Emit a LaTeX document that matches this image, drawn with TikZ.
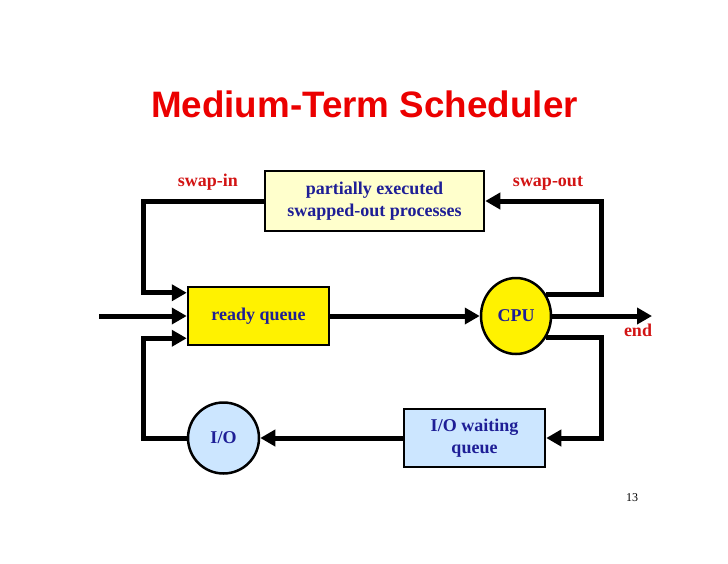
\documentclass[tikz,border=0pt]{standalone}
\usepackage{fontspec}
\setmainfont{Liberation Serif}
\newfontfamily\headfont{Liberation Sans}
\usetikzlibrary{arrows.meta,shapes.geometric}
\definecolor{txtblue}{RGB}{30,30,150}
\definecolor{lblred}{RGB}{210,20,20}
\definecolor{headred}{RGB}{235,0,0}
\definecolor{paleyellow}{RGB}{255,255,204}
\definecolor{paleblue}{RGB}{204,230,255}
\begin{document}
\begin{tikzpicture}[
  x=1pt, y=-1pt,
  block/.style={rectangle, draw, line width=2.5pt, align=center, inner sep=0pt, text=txtblue, font=\fontsize{18}{22}\selectfont\bfseries},
  unit/.style={ellipse, draw, line width=2.5pt, inner sep=0pt, text=txtblue, font=\fontsize{18}{22}\selectfont\bfseries},
  flow/.style={line width=5pt, -{Triangle[length=15pt,width=16pt]}},
  note/.style={anchor=base, text=lblred, font=\fontsize{18}{22}\selectfont\bfseries}
]
\useasboundingbox (0,0) rectangle (728,563);

\node[anchor=base, text=headred, font=\headfont\fontsize{36.8}{42}\selectfont\bfseries] (title) at (364.5,117) {Medium-Term Scheduler};

\node[block, fill=paleyellow, minimum width=219, minimum height=60] (swapped) at (374.5,201) {partially executed\\swapped-out processes};
\node[block, fill=yellow, minimum width=141, minimum height=58] (ready) at (258.5,316) {ready queue};
\node[unit, fill=yellow, minimum width=70, minimum height=76] (cpu) at (516,316) {CPU};
\node[block, fill=paleblue, minimum width=141, minimum height=58] (iowait) at (474.5,438) {I/O waiting\\queue};
\node[unit, fill=paleblue, minimum width=71, minimum height=71] (io) at (223.5,438) {I/O};

\node[note] (swapin) at (208,186) {swap-in};
\node[note] (swapout) at (548,186) {swap-out};
\node[note] (end) at (638,336) {end};
\node[anchor=base, font=\fontsize{12}{14}\selectfont] (page) at (632,501) {13};

\coordinate (input) at (99,316);
\coordinate (output) at (652,316);
\coordinate (lft) at (143,0);
\coordinate (rgt) at (601,0);

\draw[flow] (input) -- (ready.west);
\draw[flow] (ready.east) -- (cpu.west);
\draw[flow] (cpu.east) -- (output);
\draw[flow] (swapped.west) -| (lft |- ready.north) |- ([yshift=-7pt]ready.north west);
\draw[flow] (cpu.35) -| (rgt |- swapped.east) -- (swapped.east);
\draw[flow] (cpu.-35) -| (rgt |- iowait.east) -- (iowait.east);
\draw[flow] (iowait.west) -- (io.east);
\draw[flow] (io.west) -| (lft |- ready.south) |- ([yshift=8pt]ready.south west);
\end{tikzpicture}
\end{document}
